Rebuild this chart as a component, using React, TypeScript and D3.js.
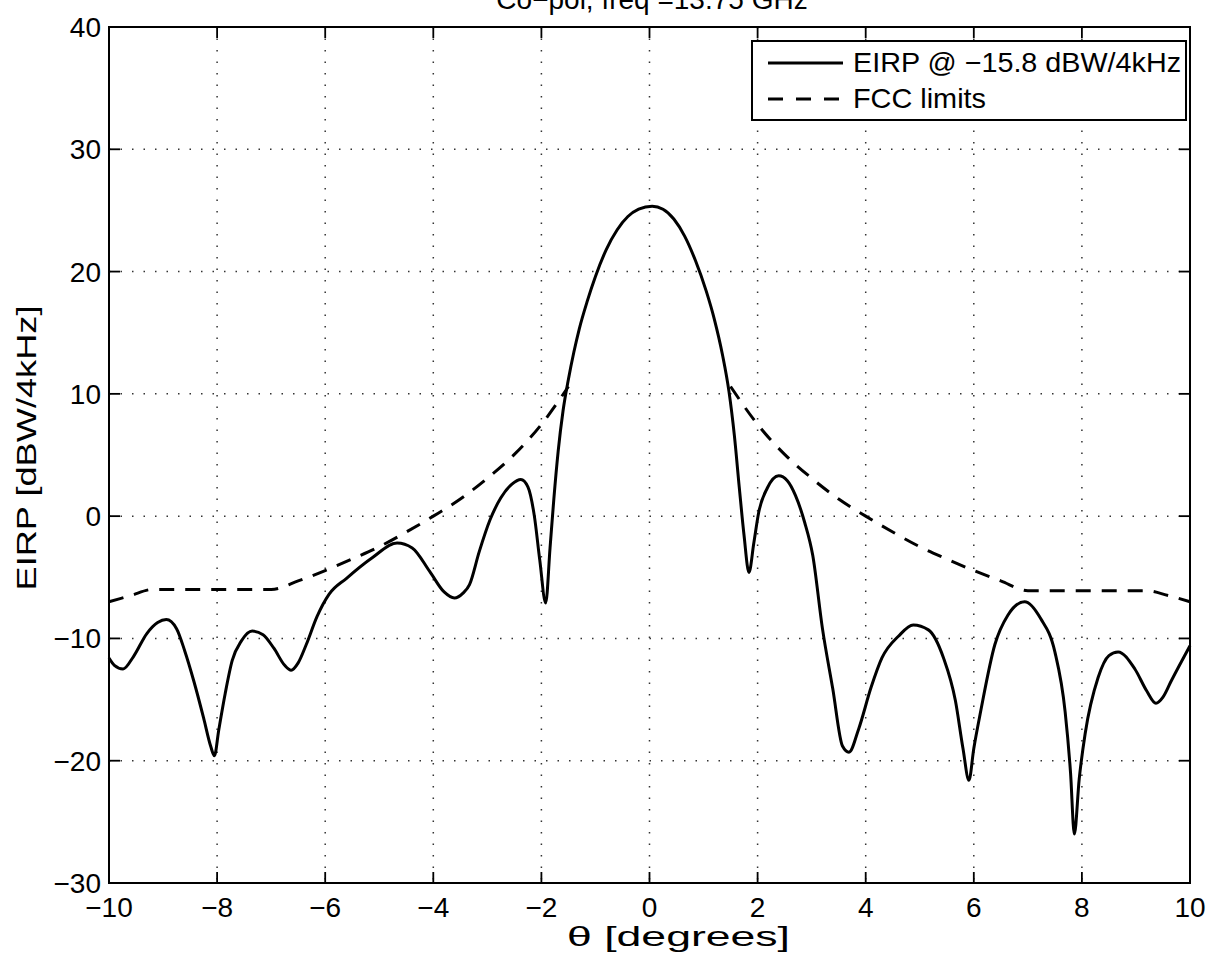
import React from 'react';
import * as d3 from 'd3';

// EIRP pattern, [theta (deg), EIRP (dBW/4kHz)]
const eirpCurve: [number, number][] = [
  [-10, -11.6], [-9.9, -12.2], [-9.74, -12.5], [-9.55, -11.5], [-9.3, -9.6], [-9.1, -8.7],
  [-8.94, -8.45], [-8.75, -9.2], [-8.6, -11], [-8.43, -13.5], [-8.25, -16.5], [-8.12, -18.8],
  [-8.05, -19.6], [-7.97, -17.5], [-7.85, -14.5], [-7.72, -11.8], [-7.55, -10.2], [-7.35, -9.4],
  [-7.15, -9.7], [-6.95, -10.8], [-6.75, -12.2], [-6.63, -12.6], [-6.5, -12], [-6.35, -10.5],
  [-6.15, -8.2], [-5.93, -6.4], [-5.61, -5.1], [-5.13, -3.4], [-4.67, -2.2], [-4.39, -2.6],
  [-4.07, -4.5], [-3.8, -6.2], [-3.61, -6.7], [-3.45, -6.3], [-3.33, -5.6], [-3.15, -2.9],
  [-2.95, -0.3], [-2.75, 1.5], [-2.55, 2.6], [-2.38, 3.0], [-2.25, 2.4], [-2.13, 0],
  [-2.03, -3.6], [-1.92, -7.1], [-1.84, -2.6], [-1.77, 1.4], [-1.69, 5.3], [-1.6, 8.6],
  [-1.5, 11.2], [-1.4, 13.4], [-1.3, 15.3], [-1.15, 17.6], [-1.0, 19.6], [-0.8, 21.8],
  [-0.6, 23.4], [-0.4, 24.5], [-0.2, 25.1], [0.05, 25.35], [0.25, 25.1], [0.45, 24.3],
  [0.65, 22.9], [0.85, 20.9], [1.05, 18.4], [1.2, 16.1], [1.35, 13.2], [1.47, 10.2],
  [1.57, 6.6], [1.66, 2.4], [1.75, -1.6], [1.84, -4.6], [1.93, -2.2], [2.02, 0.3],
  [2.18, 2.3], [2.39, 3.3], [2.55, 2.9], [2.7, 1.7], [2.87, -0.5], [3.02, -3.2], [3.2, -9.2],
  [3.39, -14.1], [3.57, -18.8], [3.69, -19.3], [3.87, -17.4], [4.1, -14], [4.3, -11.6],
  [4.61, -9.8], [4.88, -8.9], [5.16, -9.3], [5.44, -11.6], [5.66, -15.1], [5.8, -19],
  [5.91, -21.6], [6.0, -19], [6.13, -15.9], [6.39, -10.5], [6.63, -8.1], [6.94, -7.0],
  [7.24, -8.4], [7.5, -11.1], [7.69, -16], [7.79, -21], [7.86, -26], [7.95, -21.5],
  [8.06, -17.8], [8.3, -13.2], [8.5, -11.4], [8.67, -11.1], [8.98, -12.5], [9.2, -14.3],
  [9.37, -15.3], [9.5, -14.8], [9.65, -13.5], [10, -10.6],
];

// FCC limit mask, left and right branches
const fccLeft: [number, number][] = [
  [-10, -7.0], [-9.6, -6.5], [-9.2, -6.0], [-8.5, -6.0], [-7.5, -6.0], [-7.0, -6.0],
  [-6.5, -5.3], [-6, -4.45], [-5.5, -3.5], [-5, -2.5], [-4.5, -1.3], [-4, 0], [-3.5, 1.4],
  [-3, 3.1], [-2.5, 5.05], [-2, 7.5], [-1.5, 10.6],
];
const fccRight: [number, number][] = [
  [1.5, 10.6], [2, 7.5], [2.5, 5.05], [3, 3.1], [3.5, 1.4], [4, 0], [4.5, -1.3], [5, -2.5],
  [5.5, -3.5], [6, -4.45], [6.5, -5.3], [7, -6.1], [7.5, -6.1], [8.5, -6.1], [9.2, -6.1],
  [9.6, -6.5], [10, -7.0],
];

const xTicks = [-10, -8, -6, -4, -2, 0, 2, 4, 6, 8, 10];
const yTicks = [-30, -20, -10, 0, 10, 20, 30, 40];

const titleText = 'Co\u2212pol, freq =13.75 GHz';
const xLabelText = '\u03b8  [degrees]';
const yLabelText = 'EIRP [dBW/4kHz]';
const legendLabels = ['EIRP @ \u221215.8 dBW/4kHz', 'FCC limits'];

const W = 1208;
const H = 961;
const M = { left: 109, right: 1190, top: 27, bottom: 883 };
const FONT = '"Liberation Sans", Arial, Helvetica, sans-serif';

const fmt = (v: number) => (v < 0 ? '\u2212' + Math.abs(v) : String(v));

export default function App() {
  const x = d3.scaleLinear().domain([-10, 10]).range([M.left, M.right]);
  const y = d3.scaleLinear().domain([-30, 40]).range([M.bottom, M.top]);

  const line = d3
    .line<[number, number]>()
    .x((d) => x(d[0]))
    .y((d) => y(d[1]))
    .curve(d3.curveMonotoneX);

  const tickLen = 11;
  const grid = '#333';

  const lg = { x0: 752, x1: 1186, y0: 41, y1: 120 };

  return (
    <svg width={W} height={H} style={{ display: 'block', position: 'absolute', left: 0, top: 0, background: '#fff' }}>
      <rect x={0} y={0} width={W} height={H} fill="#fff" />
      {/* grid */}
      <g stroke={grid} strokeWidth={1.5} strokeDasharray="1.5 10">
        {xTicks.slice(1, -1).map((t) => (
          <line key={'gx' + t} x1={x(t)} x2={x(t)} y1={M.top} y2={M.bottom} />
        ))}
        {yTicks.slice(1, -1).map((t) => (
          <line key={'gy' + t} x1={M.left} x2={M.right} y1={y(t)} y2={y(t)} />
        ))}
      </g>
      {/* ticks */}
      <g stroke="#000" strokeWidth={1.8}>
        {xTicks.map((t) => (
          <g key={'tx' + t}>
            <line x1={x(t)} x2={x(t)} y1={M.bottom} y2={M.bottom - tickLen} />
            <line x1={x(t)} x2={x(t)} y1={M.top} y2={M.top + tickLen} />
          </g>
        ))}
        {yTicks.map((t) => (
          <g key={'ty' + t}>
            <line x1={M.left} x2={M.left + tickLen} y1={y(t)} y2={y(t)} />
            <line x1={M.right} x2={M.right - tickLen} y1={y(t)} y2={y(t)} />
          </g>
        ))}
      </g>
      {/* data */}
      <path d={line(fccLeft) || ''} fill="none" stroke="#000" strokeWidth={3} strokeDasharray="15 11" />
      <path d={line(fccRight) || ''} fill="none" stroke="#000" strokeWidth={3} strokeDasharray="15 11" />
      <path d={line(eirpCurve) || ''} fill="none" stroke="#000" strokeWidth={3} strokeLinejoin="round" />
      {/* box */}
      <rect x={M.left} y={M.top} width={M.right - M.left} height={M.bottom - M.top} fill="none" stroke="#000" strokeWidth={2} />
      {/* tick labels */}
      <g fontFamily={FONT} fontSize={28} fill="#000">
        {xTicks.map((t) => (
          <text key={'lx' + t} x={x(t)} y={M.bottom + 34} textAnchor="middle">
            {fmt(t)}
          </text>
        ))}
        {yTicks.map((t) => (
          <text key={'ly' + t} x={M.left - 8} y={y(t) + 10} textAnchor="end">
            {fmt(t)}
          </text>
        ))}
      </g>
      {/* title */}
      <text x={652} y={9} textAnchor="middle" fontFamily={FONT} fontSize={28}>
        {titleText}
      </text>
      {/* axis labels */}
      <text x={567} y={946} fontFamily={FONT} fontSize={27} textLength={223} lengthAdjust="spacingAndGlyphs">
        {xLabelText}
      </text>
      <text
        transform={`translate(36, ${448}) rotate(-90)`}
        textAnchor="middle"
        fontFamily={FONT}
        fontSize={27}
        textLength={285}
        lengthAdjust="spacingAndGlyphs"
      >
        {yLabelText}
      </text>
      {/* legend */}
      <g>
        <rect x={lg.x0} y={lg.y0} width={lg.x1 - lg.x0} height={lg.y1 - lg.y0} fill="#fff" stroke="#000" strokeWidth={2} />
        <line x1={768} x2={843} y1={63} y2={63} stroke="#000" strokeWidth={3} />
        <line x1={768} x2={843} y1={99} y2={99} stroke="#000" strokeWidth={3} strokeDasharray="15 13" />
        <text x={853} y={72} fontFamily={FONT} fontSize={28} textLength={328} lengthAdjust="spacingAndGlyphs">
          {legendLabels[0]}
        </text>
        <text x={853} y={108} fontFamily={FONT} fontSize={28} textLength={133} lengthAdjust="spacingAndGlyphs">
          {legendLabels[1]}
        </text>
      </g>
    </svg>
  );
}
